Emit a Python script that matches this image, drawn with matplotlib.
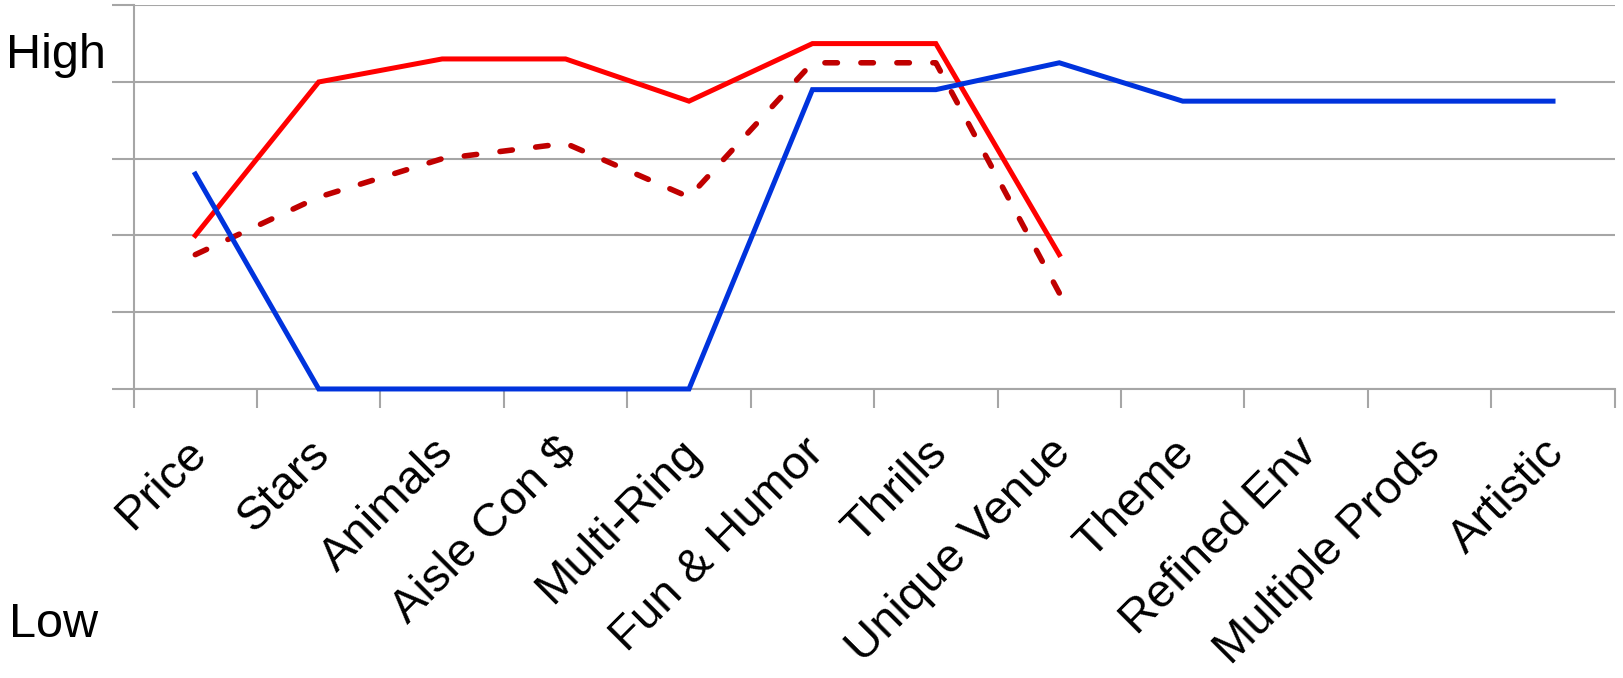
import matplotlib
matplotlib.use("Agg")
import matplotlib.pyplot as plt
import matplotlib.transforms as mtransforms
import numpy as np

categories = ["Price", "Stars", "Animals", "Aisle Con $", "Multi-Ring",
              "Fun & Humor", "Thrills", "Unique Venue", "Theme",
              "Refined Env", "Multiple Prods", "Artistic"]

# Offering levels per attribute (0 = Low, 5 = High)
blue_values = [2.8, 0, 0, 0, 0, 3.9, 3.9, 4.25, 3.75, 3.75, 3.75, 3.75]
red_values = [2.0, 4.0, 4.3, 4.3, 3.75, 4.5, 4.5, 1.75]
dashed_values = [1.75, 2.5, 3.0, 3.2, 2.5, 4.25, 4.25, 1.25]

plt.rcParams["font.family"] = ["Liberation Sans", "DejaVu Sans"]

DPI = 100
fig = plt.figure(figsize=(16.23, 6.78), dpi=DPI)
ax = fig.add_axes([0.0823, 0.4263, 0.9126, 0.566])

grid_color = "#a6a6a6"
n = len(categories)
x = np.arange(n)

ax.set_xlim(-0.5, n - 0.5)
ax.set_ylim(0, 5)

# Fit the dash pattern so the dashed series starts and ends on a dash
dash_lw = 4.0  # points
xd = x[:len(dashed_values)]
pix = ax.transData.transform(np.column_stack([xd, dashed_values]))
path_len = np.sum(np.hypot(*np.diff(pix, axis=0).T))
period0, dash0 = 36.0, 12.5  # pixels
k = max(1, round((path_len - dash0) / period0))
scale = (path_len - dash0) / k / period0
lw_px = dash_lw * DPI / 72
dash_on = dash0 * scale / lw_px
dash_off = (period0 - dash0) * scale / lw_px

ax.plot(x[:len(red_values)], red_values, color="#ff0000", lw=3.6,
        solid_joinstyle="miter", zorder=3, clip_on=False)
ax.plot(xd, dashed_values, color="#c00000", lw=dash_lw,
        dashes=(dash_on, dash_off), dash_capstyle="round", zorder=3,
        clip_on=False)
ax.plot(x, blue_values, color="#0033dd", lw=3.6, solid_joinstyle="miter",
        zorder=4, clip_on=False)

ax.set_yticks(np.arange(0, 6))
ax.set_yticklabels([])
ax.yaxis.grid(True, color=grid_color, lw=1.5, zorder=0)
ax.tick_params(axis="y", length=16, width=1.5, color=grid_color)

ax.set_xticks(x)
ax.set_xticklabels(categories, rotation=45, ha="right",
                   rotation_mode="anchor", fontsize=34)
ax.set_xticks(np.arange(-0.5, n), minor=True)
ax.tick_params(axis="x", which="major", length=0, pad=30)
ax.tick_params(axis="x", which="minor", length=14, width=1.5, color=grid_color)
shift = mtransforms.ScaledTranslation(-11 / DPI, 0, fig.dpi_scale_trans)
for lab in ax.get_xticklabels():
    lab.set_transform(lab.get_transform() + shift)

for side in ["top", "right"]:
    ax.spines[side].set_visible(False)
for side in ["left", "bottom"]:
    ax.spines[side].set_color(grid_color)
    ax.spines[side].set_linewidth(1.5)
ax.spines["left"].set_zorder(1)

fig.text(0.0035, 1 - 68 / 678, "High", fontsize=35, va="baseline", ha="left")
fig.text(0.0055, 1 - 637 / 678, "Low", fontsize=35, va="baseline", ha="left")

fig.savefig("out.png", dpi=DPI)
